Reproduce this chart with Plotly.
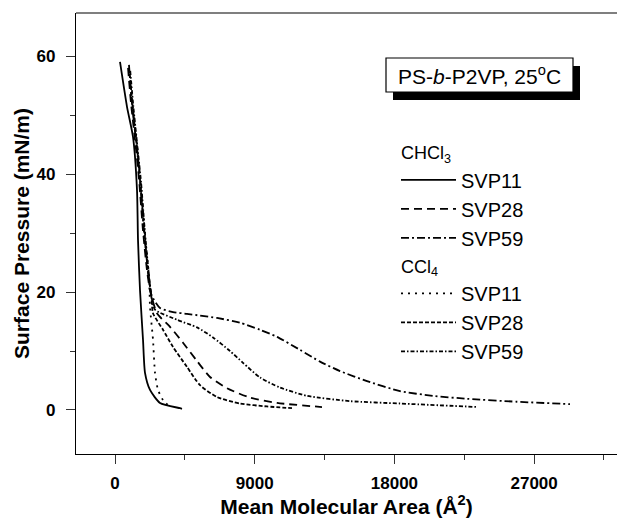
import plotly.graph_objects as go

# ---- data ----
chcl3_svp11_x = [322, 773, 1160, 1417, 1482, 1611, 1804, 1933, 2255, 2899, 4187, 4315]
chcl3_svp11_y = [59.0, 51.4, 46.3, 37.3, 28.8, 20.3, 11.9, 6.3, 3.4, 1.2, 0.3, 0.2]

chcl3_svp28_x = [840, 1030, 1290, 1550, 1800, 2060, 2255, 2706, 3543, 4381, 5282, 6120, 7215, 8697, 10436, 13335]
chcl3_svp28_y = [58.0, 52.0, 45.8, 39.0, 30.5, 23.7, 20.3, 16.4, 14.1, 11.4, 8.3, 5.6, 3.7, 2.1, 1.2, 0.5]

chcl3_svp59_x = [900, 1090, 1350, 1610, 1860, 2120, 2350, 2899, 3736, 4638, 5476, 6571, 8053, 9341, 10436, 11918, 13206, 14495, 16234, 18360, 20486, 22676, 25897, 29311]
chcl3_svp59_y = [58.5, 52.0, 45.8, 39.0, 30.5, 23.7, 19.5, 17.3, 16.6, 16.3, 16.0, 15.6, 14.8, 13.6, 12.4, 10.2, 8.2, 6.6, 4.9, 3.2, 2.4, 1.9, 1.4, 1.0]

ccl4_svp11_x = [1000, 1200, 1450, 1700, 1950, 2200, 2255, 2448, 2577, 2770, 3092, 3543]
ccl4_svp11_y = [55.0, 50.0, 44.0, 37.0, 29.0, 22.5, 17.5, 11.9, 6.3, 3.4, 1.7, 0.5]

ccl4_svp28_x = [950, 1150, 1400, 1650, 1900, 2150, 2350, 2448, 3092, 3736, 4638, 5476, 6571, 8053, 9792, 11402]
ccl4_svp28_y = [57.0, 51.0, 45.0, 38.0, 30.0, 23.0, 19.0, 16.4, 13.6, 10.7, 7.3, 4.2, 2.2, 1.1, 0.6, 0.3]

ccl4_svp59_x = [980, 1180, 1430, 1680, 1930, 2180, 2380, 2577, 3994, 5282, 6313, 7408, 8246, 9341, 10629, 12369, 15139, 18360, 23384]
ccl4_svp59_y = [57.5, 51.5, 45.0, 38.5, 30.0, 23.0, 18.8, 17.0, 15.3, 14.0, 12.3, 10.0, 8.0, 5.5, 3.8, 2.4, 1.5, 1.1, 0.5]

x_tickvals = [0, 9000, 18000, 27000]
y_tickvals = [0, 20, 40, 60]

FONT = "Arial, 'Liberation Sans', sans-serif"

series = [
    ("CHCl3", "SVP11", chcl3_svp11_x, chcl3_svp11_y, "solid", 1.8),
    ("CHCl3", "SVP28", chcl3_svp28_x, chcl3_svp28_y, "8px,5px", 1.8),
    ("CHCl3", "SVP59", chcl3_svp59_x, chcl3_svp59_y, "8px,3px,2px,3px", 1.8),
    ("CCl4", "SVP11", ccl4_svp11_x, ccl4_svp11_y, "2px,5px", 1.8),
    ("CCl4", "SVP28", ccl4_svp28_x, ccl4_svp28_y, "4px,2px", 1.8),
    ("CCl4", "SVP59", ccl4_svp59_x, ccl4_svp59_y, "4px,2px,1.5px,2px", 1.8),
]
group_titles = {"CHCl3": "CHCl<sub>3</sub>", "CCl4": "CCl<sub>4</sub>"}

fig = go.Figure()
for grp, name, xs, ys, dash, w in series:
    fig.add_trace(go.Scatter(
        x=xs, y=ys, mode="lines", name=name,
        line=dict(color="black", width=w, dash=dash, shape="spline", smoothing=0.6),
        legendgroup=grp,
        legendgrouptitle=dict(text=group_titles[grp], font=dict(size=18, family=FONT, color="black")),
    ))

W, H = 617, 521
ml, mr, mt, mb = 76, 0, 13, 67
pw, ph = W - ml - mr, H - mt - mb

def px2paper(px, py):
    return (px - ml) / pw, (H - mb - py) / ph

# shadowed label box
sx0, sy1 = px2paper(393, 66)
sx1, sy0 = px2paper(580, 100)
bx0, by1 = px2paper(386, 58)
bx1, by0 = px2paper(573, 92)
fig.add_shape(type="rect", xref="paper", yref="paper", x0=sx0, x1=sx1, y0=sy0, y1=sy1,
              fillcolor="black", line=dict(color="black", width=0))
fig.add_shape(type="rect", xref="paper", yref="paper", x0=bx0, x1=bx1, y0=by0, y1=by1,
              fillcolor="white", line=dict(color="black", width=1.2))
fig.add_annotation(xref="paper", yref="paper", x=(bx0 + bx1) / 2, y=(by0 + by1) / 2,
                   text="PS-<i>b</i>-P2VP, 25<sup>o</sup>C", showarrow=False,
                   font=dict(size=21, family=FONT, color="black"),
                   xanchor="center", yanchor="middle")

lx, ly = px2paper(396, 134)

fig.update_layout(
    width=W, height=H,
    margin=dict(l=ml, r=mr, t=mt, b=mb, pad=0, autoexpand=False),
    paper_bgcolor="white", plot_bgcolor="white",
    font=dict(family=FONT, color="black"),
    showlegend=True,
    legend=dict(x=lx, y=ly, xanchor="left", yanchor="top", bgcolor="rgba(0,0,0,0)",
                font=dict(size=20, family=FONT, color="black"),
                itemwidth=55, tracegroupgap=0, traceorder="grouped"),
    xaxis=dict(range=[-2513, 32340], tickvals=x_tickvals, ticktext=[str(v) for v in x_tickvals],
               ticks="outside", ticklen=9, tickwidth=1.2, tickcolor="#333", automargin=False,
               ticklabelstandoff=4,
               minor=dict(dtick=4500, tick0=0, ticks="outside", ticklen=5, tickwidth=1.2, tickcolor="#333"),
               showgrid=False, zeroline=False, showline=True, linecolor="black", linewidth=1.2,
               mirror=False,
               tickfont=dict(size=17, family=FONT, weight="bold", color="black"),
               title=dict(text="Mean Molecular Area (Å<sup>2</sup>)",
                          font=dict(size=21, family=FONT, weight="bold", color="black"), standoff=3)),
    yaxis=dict(range=[-7.46, 67.3], tickvals=y_tickvals, ticktext=[str(v) for v in y_tickvals],
               ticks="outside", ticklen=9, tickwidth=1.2, tickcolor="#333", automargin=False,
               ticklabelstandoff=7,
               minor=dict(dtick=10, tick0=0, ticks="outside", ticklen=5, tickwidth=1.2, tickcolor="#333"),
               showgrid=False, zeroline=False, showline=True, linecolor="black", linewidth=1.2,
               tickfont=dict(size=17, family=FONT, weight="bold", color="black"),
               title=dict(text="Surface Pressure (mN/m)",
                          font=dict(size=21, family=FONT, weight="bold", color="black"), standoff=1)),
)
# top frame line
fig.add_shape(type="line", xref="paper", yref="paper", x0=0, x1=1, y0=1, y1=1,
              line=dict(color="black", width=1.2))

fig.write_html("out.html", config={"displayModeBar": False},
               post_script="document.body.style.margin='0px';document.body.style.padding='0px';document.body.style.overflow='hidden';")
